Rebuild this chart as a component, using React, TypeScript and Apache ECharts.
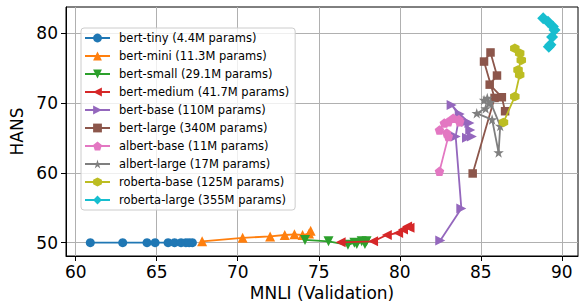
import React, { useEffect, useRef } from "react";
import * as echarts from "echarts";

const seriesNames = [
  "bert-tiny (4.4M params)",
  "bert-mini (11.3M params)",
  "bert-small (29.1M params)",
  "bert-medium (41.7M params)",
  "bert-base (110M params)",
  "bert-large (340M params)",
  "albert-base (11M params)",
  "albert-large (17M params)",
  "roberta-base (125M params)",
  "roberta-large (355M params)",
];

const bertTiny = [
  [60.9, 50.0], [62.9, 50.0], [64.4, 50.0], [64.9, 50.0], [65.7, 50.0],
  [66.1, 50.0], [66.5, 50.0], [66.8, 50.0], [67.0, 50.0], [67.2, 50.0],
];
const bertMini = [
  [67.8, 50.2], [70.3, 50.7], [72.0, 50.9], [72.9, 51.1], [73.5, 51.2],
  [74.0, 51.1], [74.4, 51.3], [74.5, 51.7],
];
const bertSmall = [
  [74.15, 50.4], [75.6, 50.2], [76.8, 49.7], [77.2, 50.0], [77.35, 49.8],
  [77.65, 50.2], [77.85, 49.8], [77.95, 50.2],
];
const bertMedium = [
  [76.35, 50.05], [78.35, 50.2], [79.2, 51.1], [79.9, 51.4], [80.2, 51.9],
  [80.45, 52.3], [80.6, 52.15],
];
const bertBase = [
  [82.5, 50.3], [83.8, 54.9], [83.45, 65.2], [83.7, 68.4], [84.3, 67.1],
  [84.1, 67.3], [83.2, 69.7], [84.35, 66.1], [84.15, 65.0], [84.45, 65.2],
];
const bertLarge = [
  [84.5, 59.9], [85.85, 70.7], [85.2, 75.9], [85.6, 77.2], [86.0, 73.9],
  [85.55, 72.6], [86.3, 70.8], [86.5, 68.8],
];
const albertBase = [
  [82.45, 60.2], [83.0, 65.2], [82.9, 65.7], [82.45, 66.1], [82.75, 67.1],
  [83.0, 67.3], [83.3, 67.8], [83.65, 67.6], [83.7, 67.3],
];
const albertLarge = [
  [85.2, 70.4], [85.4, 70.7], [85.5, 69.9], [85.3, 69.2], [84.75, 68.5],
  [85.7, 67.6], [86.1, 62.9], [86.2, 66.7], [85.6, 70.1],
];
const robertaBase = [
  [86.4, 67.2], [87.1, 70.9], [87.4, 74.0], [87.3, 74.7], [87.5, 76.1],
  [87.4, 77.1], [87.1, 77.8],
];
const robertaLarge = [
  [88.85, 82.1], [89.15, 81.6], [89.45, 80.9], [89.55, 80.4], [89.4, 79.4],
  [89.3, 78.3], [89.2, 78.0],
];

const xTicks = [60, 65, 70, 75, 80, 85, 90];
const yTicks = [50, 60, 70, 80];

const colors = [
  "#1f77b4", "#ff7f0e", "#2ca02c", "#d62728", "#9467bd",
  "#8c564b", "#e377c2", "#7f7f7f", "#bcbd22", "#17becf",
];

const SYM = {
  circle: "circle",
  up: "path://M0,-1 L1,1 L-1,1 Z",
  down: "path://M-1,-1 L1,-1 L0,1 Z",
  left: "path://M-1,0 L1,-1 L1,1 Z",
  right: "path://M1,0 L-1,-1 L-1,1 Z",
  square: "rect",
  pentagon: "path://M0,-1 L0.951,-0.309 L0.588,0.809 L-0.588,0.809 L-0.951,-0.309 Z",
  star: "path://M0,-1 L0.225,-0.309 L0.951,-0.309 L0.363,0.118 L0.588,0.809 L0,0.382 L-0.588,0.809 L-0.363,0.118 L-0.951,-0.309 L-0.225,-0.309 Z",
  hexagon: "path://M0,-1 L0.866,-0.5 L0.866,0.5 L0,1 L-0.866,0.5 L-0.866,-0.5 Z",
  diamond: "path://M0,-1 L1,0 L0,1 L-1,0 Z",
};

const allData = [bertTiny, bertMini, bertSmall, bertMedium, bertBase, bertLarge, albertBase, albertLarge, robertaBase, robertaLarge];
const symbols = [SYM.circle, SYM.up, SYM.down, SYM.left, SYM.right, SYM.square, SYM.pentagon, SYM.star, SYM.hexagon, SYM.diamond];
const sizes = [9, 10, 10, 10, 10, 8.5, 9.5, 10.5, 9.5, 12];

export default function App() {
  const ref = useRef<HTMLDivElement>(null);
  useEffect(() => {
    document.body.style.margin = "0";
    const chart = echarts.init(ref.current!, null, { renderer: "svg" });
    const font = "DejaVu Sans";
    chart.setOption({
      animation: false,
      textStyle: { fontFamily: font },
      grid: {
        left: 66, right: 4, top: 7, bottom: 51,
        show: true, borderColor: "#000", borderWidth: 1, backgroundColor: "transparent",
      },
      legend: {
        orient: "vertical",
        left: 81,
        top: 28,
        padding: [4, 6, 4, 3],
        itemWidth: 25,
        itemHeight: 11,
        itemGap: 6,
        backgroundColor: "rgba(255,255,255,0.8)",
        borderColor: "#cccccc",
        borderWidth: 1,
        borderRadius: 3,
        textStyle: { fontFamily: font, fontSize: 11.5, color: "#000", padding: [0, 0, 0, 4] },
        data: seriesNames,
      },
      xAxis: {
        type: "value",
        min: 59.4,
        max: 91.0,
        name: "MNLI (Validation)",
        nameLocation: "middle",
        nameGap: 28,
        nameTextStyle: { fontFamily: font, fontSize: 17, color: "#000" },
        axisLine: { show: true, lineStyle: { color: "#000", width: 1 } },
        axisTick: { show: true, length: 5, inside: false, lineStyle: { color: "#000" }, customValues: xTicks },
        axisLabel: { fontFamily: font, fontSize: 17, color: "#000", margin: 7, customValues: xTicks, formatter: (v: number) => String(v) },
        splitLine: { show: true, lineStyle: { color: "#b0b0b0", width: 1 }, customValues: xTicks },
      },
      yAxis: {
        type: "value",
        min: 48.1,
        max: 83.7,
        name: "HANS",
        nameLocation: "middle",
        nameGap: 33,
        nameTextStyle: { fontFamily: font, fontSize: 17, color: "#000" },
        axisLine: { show: true, lineStyle: { color: "#000", width: 1 } },
        axisTick: { show: true, length: 5, inside: false, lineStyle: { color: "#000" }, customValues: yTicks },
        axisLabel: { fontFamily: font, fontSize: 17, color: "#000", margin: 8, customValues: yTicks, formatter: (v: number) => String(v) },
        splitLine: { show: true, lineStyle: { color: "#b0b0b0", width: 1 }, customValues: yTicks },
      },
      series: allData.map((d, i) => ({
        type: "line",
        name: seriesNames[i],
        data: d,
        symbol: symbols[i],
        symbolSize: sizes[i],
        showAllSymbol: true,
        color: colors[i],
        lineStyle: { color: colors[i], width: 1.8 },
        itemStyle: { color: colors[i], borderWidth: 0, opacity: 1 },
        z: 2 + i,
      })),
    });
    return () => chart.dispose();
  }, []);
  return <div ref={ref} style={{ width: 582, height: 307 }} />;
}
